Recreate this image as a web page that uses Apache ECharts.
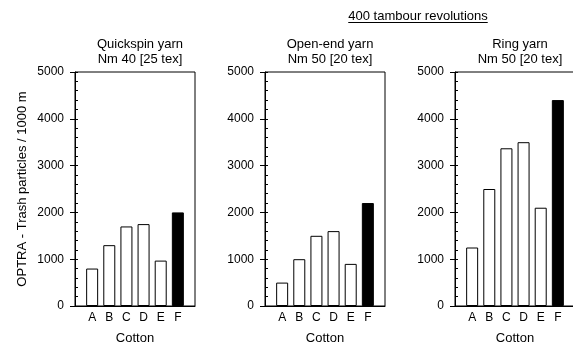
<!DOCTYPE html>
<html>
<head>
<meta charset="utf-8">
<style>
html,body{margin:0;padding:0;background:#fff;}
#chart{width:573px;height:344px;}
</style>
<script src="https://cdn.jsdelivr.net/npm/echarts@6/dist/echarts.min.js"></script>
</head>
<body>
<div id="chart"></div>
<script>
// ---- data ----
var categories = ['A', 'B', 'C', 'D', 'E', 'F'];
var panelTitles = ['Quickspin yarn\nNm 40 [25 tex]', 'Open-end yarn\nNm 50 [20 tex]', 'Ring yarn\nNm 50 [20 tex]'];
var quickspin = [800, 1300, 1700, 1750, 970, 2000];
var openEnd = [500, 1000, 1500, 1600, 900, 2200];
var ring = [1250, 2500, 3370, 3500, 2100, 4400];
var yTicks = [0, 1000, 2000, 3000, 4000, 5000];
var headerText = '400 tambour revolutions';
var yAxisName = 'OPTRA - Trash particles / 1000 m';
var xAxisName = 'Cotton';

var seriesValues = [quickspin, openEnd, ring];
var FONT = '"Liberation Sans", Arial, sans-serif';
var lefts = [75, 265, 455];
var W = 120, TOP = 72, H = 234;

var chart = echarts.init(document.getElementById('chart'), null, {renderer: 'canvas'});

var grids = [], xAxes = [], yAxes = [], series = [], titles = [];
for (var p = 0; p < 3; p++) {
  grids.push({left: lefts[p], top: TOP, width: W, height: H, show: true, borderColor: '#000', borderWidth: 1,
    backgroundColor: 'transparent', containLabel: false, outerBoundsMode: 'none'});
  xAxes.push({
    type: 'value', gridIndex: p, min: 0, max: categories.length + 1, interval: 1,
    axisLine: {show: true, lineStyle: {color: '#000', width: 1}},
    axisTick: {show: false},
    splitLine: {show: false},
    axisLabel: {
      color: '#000', fontFamily: FONT, fontSize: 12, margin: 6,
      formatter: function (v) { return categories[v - 1] || ''; }
    },
    name: xAxisName, nameLocation: 'middle', nameGap: 26,
    nameTextStyle: {color: '#000', fontFamily: FONT, fontSize: 13}
  });
  yAxes.push({
    type: 'value', gridIndex: p, min: yTicks[0], max: yTicks[yTicks.length - 1], interval: 1000,
    axisLine: {show: true, lineStyle: {color: '#000', width: 1}},
    axisTick: {show: true, inside: false, length: 5, lineStyle: {color: '#000'}},
    splitLine: {show: false},
    axisLabel: {color: '#000', fontFamily: FONT, fontSize: 12, margin: 11,
      formatter: function (v) { return String(v); }},
    name: p === 0 ? yAxisName : '', nameLocation: 'middle', nameGap: 46,
    nameTextStyle: {color: '#000', fontFamily: FONT, fontSize: 13}
  });
  yAxes.push({
    type: 'value', gridIndex: p, min: yTicks[0], max: yTicks[yTicks.length - 1], interval: 1000,
    position: 'left',
    axisLine: {show: false},
    axisTick: {show: true, inside: true, length: 3, lineStyle: {color: '#000'}},
    minorTick: {show: true, splitNumber: 5, length: 3, lineStyle: {color: '#000'}},
    splitLine: {show: false},
    axisLabel: {show: false}
  });
  var vals = seriesValues[p];
  var data = vals.map(function (v, i) {
    var last = i === vals.length - 1;
    return {value: [i + 1, v], itemStyle: {color: last ? '#000' : '#fff', borderColor: '#000', borderWidth: 1}};
  });
  series.push({
    type: 'bar', xAxisIndex: p, yAxisIndex: p * 2, data: data, barWidth: 12,
    silent: true, animation: false
  });
  titles.push({
    text: panelTitles[p], left: lefts[p] + W / 2, top: 32, textAlign: 'center',
    textStyle: {color: '#000', fontFamily: FONT, fontSize: 13, fontWeight: 'normal', lineHeight: 15}
  });
}

// measure header text for underline
var cv = document.createElement('canvas').getContext('2d');
cv.font = '13px "Liberation Sans", Arial, sans-serif';
var hw = cv.measureText(headerText).width;
var hx = (lefts[1] + lefts[2] + W) / 2 - 2;

chart.setOption({
  animation: false,
  backgroundColor: '#fff',
  title: titles,
  grid: grids,
  xAxis: xAxes,
  yAxis: yAxes,
  series: series,
  graphic: [
    {type: 'text', left: hx - hw / 2, top: 10, style: {text: headerText, fill: '#000', font: '13px "Liberation Sans", Arial, sans-serif'}},
    {type: 'line', shape: {x1: hx - hw / 2, y1: 22.5, x2: hx + hw / 2, y2: 22.5}, style: {stroke: '#000', lineWidth: 1}}
  ]
});
</script>
</body>
</html>
